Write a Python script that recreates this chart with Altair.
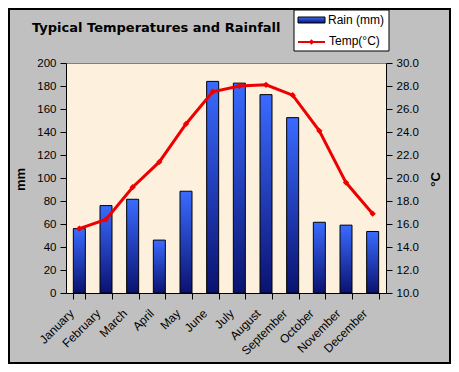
import altair as alt
import pandas as pd

months = ["January", "February", "March", "April", "May", "June", "July",
          "August", "September", "October", "November", "December"]
rain_mm = [56, 76, 81.5, 46, 88.5, 184, 182.5, 172.5, 152.5, 61.5, 59, 53.5]
temp_c = [15.6, 16.4, 19.2, 21.4, 24.7, 27.5, 28.0, 28.1, 27.2, 24.1, 19.6, 16.9]
rain_ticks = list(range(0, 201, 20))
temp_ticks = list(range(10, 31, 2))

title_text = "Typical Temperatures and Rainfall"
legend_rain = "Rain (mm)"
legend_temp = "Temp(°C)"

df = pd.DataFrame({"Month": months, "Rain": rain_mm, "Temp": temp_c})

FONT = "Liberation Sans"
W, H = 320, 230

xenc = alt.X("Month:N", sort=months, title=None,
             scale=alt.Scale(paddingInner=0.55, paddingOuter=0.275),
             axis=alt.Axis(labelAngle=-45, labelAlign="right", labelBaseline="middle",
                           tickBand="extent", labelFont=FONT, labelFontSize=12,
                           labelColor="black", domainColor="black", tickColor="black",
                           tickSize=6, labelPadding=12, labelOffset=-8))

grad = alt.Gradient(gradient="linear",
                    stops=[alt.GradientStop(color="#0a1270", offset=0),
                           alt.GradientStop(color="#3a6bff", offset=1)],
                    x1=1, x2=1, y1=1, y2=0)

bars = alt.Chart(df).mark_bar(color=grad, stroke="black", strokeWidth=1).encode(
    x=xenc,
    y=alt.Y("Rain:Q", title="mm", scale=alt.Scale(domain=[0, 200], nice=False),
            axis=alt.Axis(values=rain_ticks, grid=False, labelFont=FONT, labelFontSize=11.5,
                          labelColor="black", domainColor="black", tickColor="black",
                          tickSize=6, labelPadding=4, titleFont=FONT, titleFontSize=13,
                          titleFontWeight="bold", titleColor="black", titleAngle=-90,
                          titleX=-46, titleY=116, titleAlign="center",
                          titleBaseline="middle")),
)

line = alt.Chart(df).mark_line(color="#ee0000", strokeWidth=3,
                               point=alt.OverlayMarkDef(shape="diamond", size=40,
                                                        filled=True, color="#ee0000")).encode(
    x=alt.X("Month:N", sort=months),
    y=alt.Y("Temp:Q", title="°C", scale=alt.Scale(domain=[10, 30], nice=False, zero=False),
            axis=alt.Axis(orient="right", values=temp_ticks, format=".1f", grid=False,
                          labelFont=FONT, labelFontSize=11.5, labelColor="black",
                          domainColor="black", tickColor="black", tickSize=6,
                          labelPadding=4, titleFont=FONT, titleFontSize=13,
                          titleFontWeight="bold", titleColor="black", titleAngle=-90,
                          titleX=49, titleY=116, titleAlign="center",
                          titleBaseline="middle")),
)

dec = pd.DataFrame({"a": [0]})

border = alt.Chart(dec).mark_rect(fill=None, stroke="black", strokeWidth=2).encode(
    x=alt.value(-57), x2=alt.value(W + 64), y=alt.value(-54), y2=alt.value(H + 70))

title = alt.Chart(dec).mark_text(text=title_text, font="DejaVu Sans", fontSize=13,
                                 fontWeight="bold", align="left", baseline="alphabetic",
                                 color="black").encode(x=alt.value(-34), y=alt.value(-31))

leg_box = alt.Chart(dec).mark_rect(fill="white", stroke="black", strokeWidth=1).encode(
    x=alt.value(228), x2=alt.value(323), y=alt.value(-53), y2=alt.value(-12))
leg_sw = alt.Chart(dec).mark_rect(color=grad, stroke="black", strokeWidth=1).encode(
    x=alt.value(232), x2=alt.value(259), y=alt.value(-46), y2=alt.value(-40))
leg_line = alt.Chart(dec).mark_rule(color="#ee0000", strokeWidth=2).encode(
    x=alt.value(232), x2=alt.value(259), y=alt.value(-21))
leg_pt = alt.Chart(dec).mark_point(shape="diamond", size=30, filled=True, color="#ee0000",
                                   opacity=1).encode(x=alt.value(245.5), y=alt.value(-21))
leg_t1 = alt.Chart(dec).mark_text(text=legend_rain, font=FONT, fontSize=12, align="left",
                                  baseline="middle", color="black").encode(
    x=alt.value(262), y=alt.value(-43))
leg_t2 = alt.Chart(dec).mark_text(text=legend_temp, font=FONT, fontSize=12, align="left",
                                  baseline="middle", color="black").encode(
    x=alt.value(263), y=alt.value(-22))

chart = alt.layer(bars, line, border, title, leg_box, leg_sw, leg_line, leg_pt, leg_t1, leg_t2
                  ).resolve_scale(y="independent").properties(
    width=W, height=H,
    autosize=alt.AutoSizeParams(type="none"),
    padding={"left": 58, "top": 55, "right": 65, "bottom": 71},
    background="#c0c0c0",
).configure_view(fill="#fdf1dd", stroke="#808080", strokeWidth=1)

chart.save("out.html", embed_options={"renderer": "svg", "actions": False})
